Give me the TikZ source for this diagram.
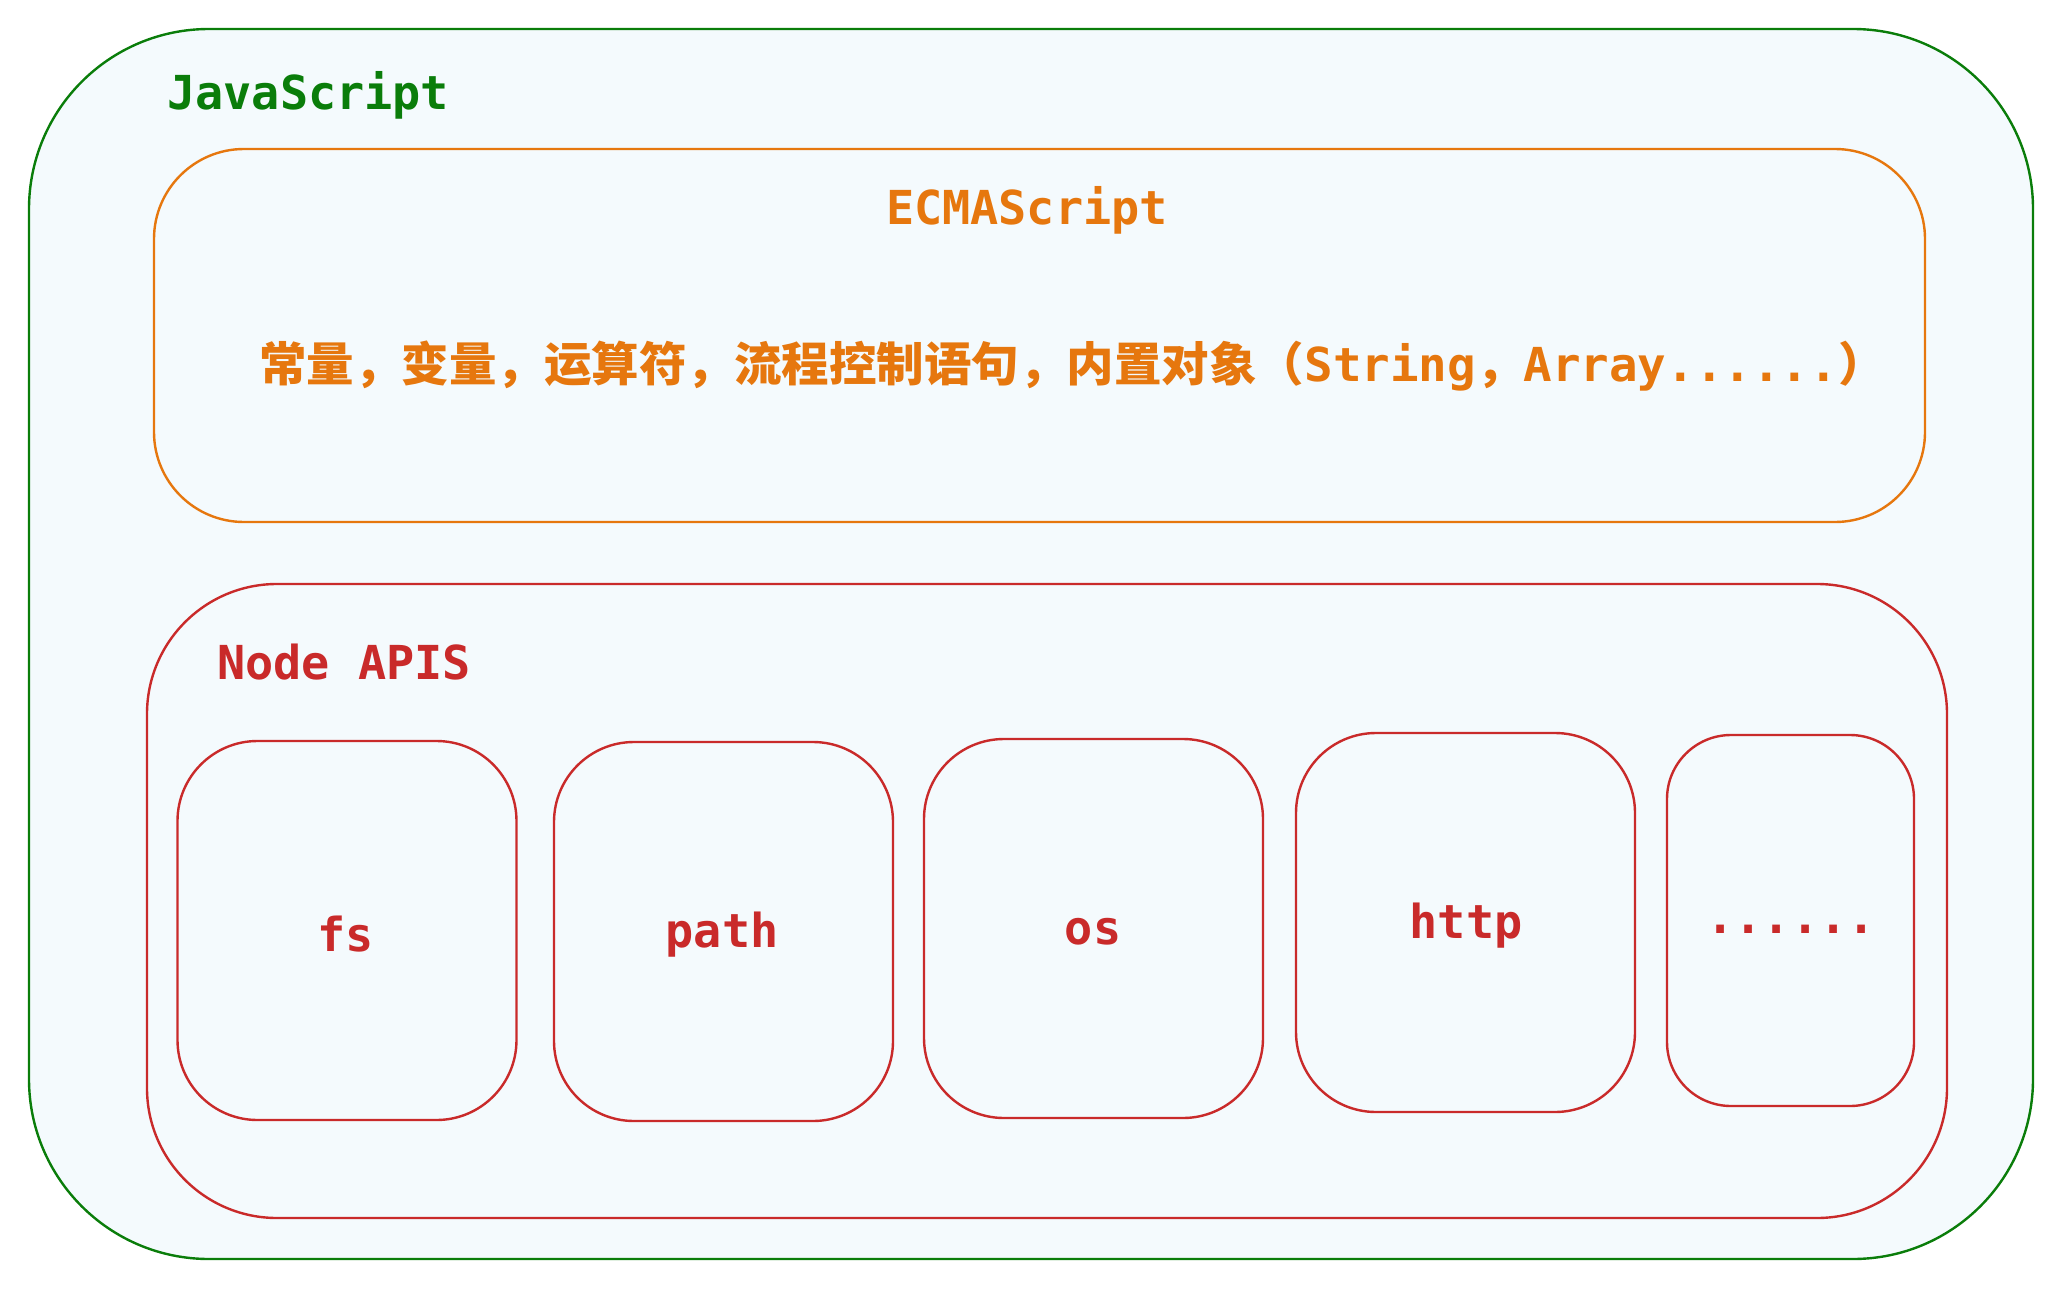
\documentclass[tikz,border=0pt]{standalone}
\usepackage{fontspec}
\setmainfont{DejaVu Sans Mono}
\setmonofont{DejaVu Sans Mono}
\newfontfamily\cjk{Noto Sans CJK SC}
\definecolor{jsgreen}{HTML}{0A7D0A}
\definecolor{esorange}{HTML}{E6770E}
\definecolor{nodered}{HTML}{C92A2A}
\definecolor{hfill}{HTML}{F4FAFD}
\begin{document}
\begin{tikzpicture}[x=0.5pt,y=-0.5pt,
  lbl/.style={font=\fontsize{23.4}{28}\selectfont\bfseries, inner sep=0pt},
  outerbox/.style={draw=jsgreen, line width=1.2pt, fill=hfill, rounded corners=90pt, inner sep=0pt},
  esbox/.style={draw=esorange, line width=1.2pt, fill=hfill, rounded corners=45pt, inner sep=0pt},
  apibox/.style={draw=nodered, line width=1.2pt, fill=hfill, rounded corners=65pt, inner sep=0pt},
  modbox/.style={draw=nodered, line width=1.2pt, fill=hfill, rounded corners=40pt, inner sep=0pt,
     minimum width=169.5pt, minimum height=189.5pt},
  modlbl/.style={lbl, text=nodered}
]
\useasboundingbox (0,0) rectangle (2063,1290);
\node[outerbox, minimum width=1002pt, minimum height=615pt] (js) at (1031,644) {};
\node[lbl, text=jsgreen, anchor=west] (jslbl) at (167,95) {JavaScript};

\node[esbox, minimum width=885.5pt, minimum height=186.5pt] (es) at (1039.5,335.5) {};
\node[lbl, text=esorange] (eslbl) at (1027,210) {ECMAScript};
\node[lbl, text=esorange, anchor=west, transform shape, xscale=1.015] (estext) at (259,366)
  {{\cjk\bfseries 常量，变量，运算符，流程控制语句，内置对象（}String{\cjk\bfseries ，}Array......{\cjk\bfseries ）}};

\node[apibox, minimum width=900pt, minimum height=317pt] (api) at (1047,901) {};
\node[lbl, text=nodered, anchor=west] (apilbl) at (217,662) {Node APIS};

\node[modbox] (fs) at (347,930.5) {};
\node[modbox] (path) at (723.5,931.5) {};
\node[modbox] (os) at (1093.5,928.5) {};
\node[modbox] (http) at (1465.5,922.5) {};
\node[modbox, minimum width=123.5pt, minimum height=185.5pt, rounded corners=32pt] (more) at (1790.5,920.5) {};
\node[modlbl] (fslbl) at (346,934) {fs};
\node[modlbl] (pathlbl) at (722,935) {path};
\node[modlbl] (oslbl) at (1093,932) {os};
\node[modlbl] (httplbl) at (1466,926) {http};
\node[modlbl] (morelbl) at (1791,929) {......};
\end{tikzpicture}
\end{document}
